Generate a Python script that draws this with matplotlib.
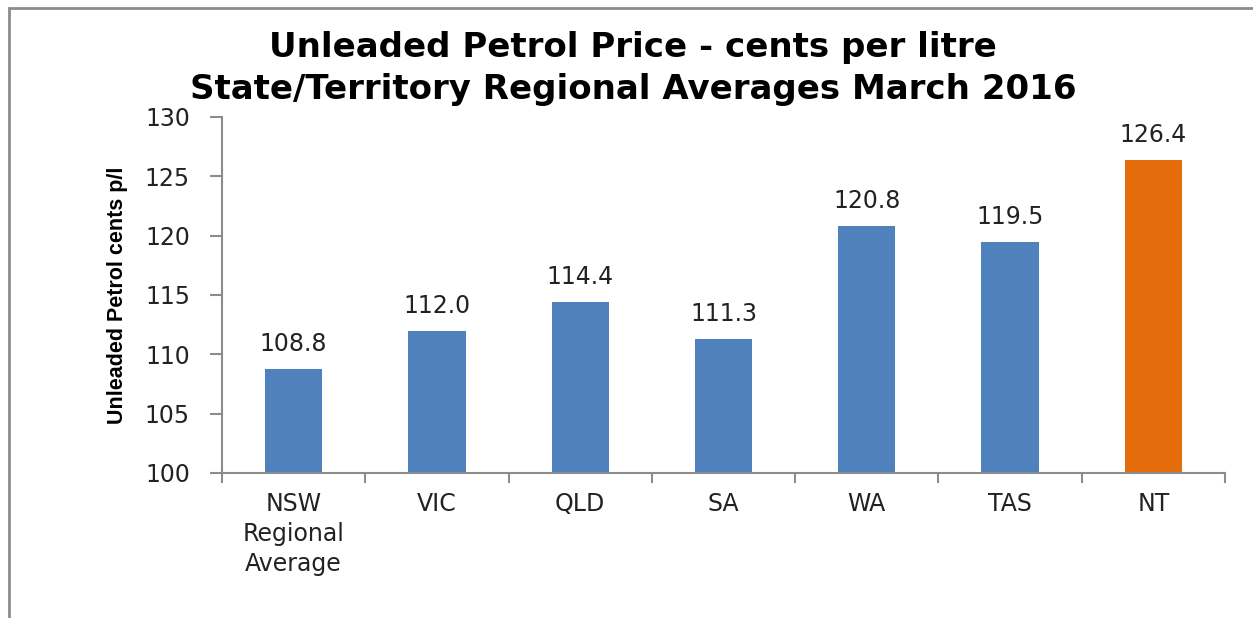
import matplotlib.pyplot as plt
from matplotlib.patches import Rectangle

categories = ["NSW\nRegional\nAverage", "VIC", "QLD", "SA", "WA", "TAS", "NT"]
prices = [108.8, 112.0, 114.4, 111.3, 120.8, 119.5, 126.4]
bar_colors = ["#4F81BD"] * 6 + ["#E46C0A"]
yticks = [100, 105, 110, 115, 120, 125, 130]

W, H = 1253, 618
fig = plt.figure(figsize=(W / 100, H / 100), dpi=100)
fig.patch.set_facecolor("white")

# outer chart frame (runs off right and bottom)
fig.add_artist(Rectangle((9 / W, -0.05), 1.1, 1 - 8 / H + 0.05, transform=fig.transFigure,
                         fill=False, edgecolor="#8c8c8c", linewidth=2))

ax = fig.add_axes([222 / W, 1 - 473 / H, (1225 - 222) / W, (473 - 117) / H])
x = range(len(categories))
ax.bar(x, prices, width=0.4, color=bar_colors, bottom=0)
ax.set_xlim(-0.5, len(categories) - 0.5)
ax.set_ylim(100, 130)
ax.set_yticks(yticks)
ax.set_yticklabels([str(v) for v in yticks], fontsize=17, color="#222222")
ax.set_xticks(list(x))
ax.set_xticklabels(categories, fontsize=17, color="#222222", linespacing=1.3)
ax.tick_params(axis="x", length=0, pad=14)
ax.tick_params(axis="y", length=9, width=1.5, color="#8c8c8c", pad=14)

# category boundary ticks on x axis
for b in [i - 0.5 for i in range(len(categories) + 1)]:
    ax.plot([b, b], [0, -0.025], transform=ax.get_xaxis_transform(), color="#8c8c8c",
            lw=1.5, clip_on=False)

for s in ["top", "right"]:
    ax.spines[s].set_visible(False)
for s in ["left", "bottom"]:
    ax.spines[s].set_color("#8c8c8c")
    ax.spines[s].set_linewidth(1.5)

for i, v in enumerate(prices):
    ax.text(i, v + 1.1, f"{v:.1f}", ha="center", va="bottom", fontsize=17, color="#222222")

ax.set_ylabel("Unleaded Petrol cents p/l", fontsize=15.5, fontweight="bold",
              family=["Liberation Sans", "DejaVu Sans"], labelpad=12)

fig.text(633 / W, 1 - 47 / H, "Unleaded Petrol Price - cents per litre", ha="center", va="center",
         fontsize=24.5, fontweight="bold")
fig.text(633 / W, 1 - 90 / H, "State/Territory Regional Averages March 2016", ha="center", va="center",
         fontsize=24.5, fontweight="bold")

fig.savefig("out.png", dpi=100)
